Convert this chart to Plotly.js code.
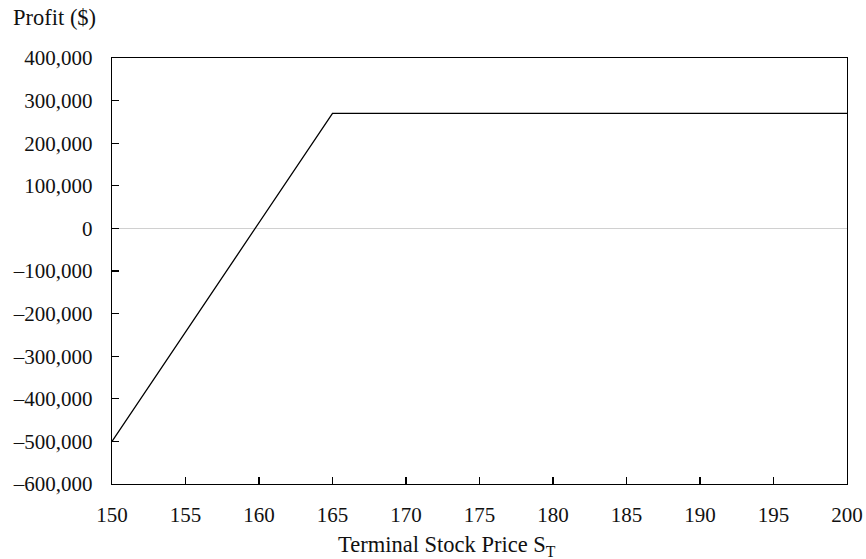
<!DOCTYPE html>
<html>
<head>
<meta charset="utf-8">
<script src="https://cdn.plot.ly/plotly-3.0.1.min.js"></script>
<style>html,body{margin:0;padding:0;background:#fff;}#chart{width:866px;height:559px;}</style>
</head>
<body>
<div id="chart"></div>
<script>
const stockPrice = [150, 165, 200];
const profit = [-500000, 270000, 270000];
const xTicks = [150, 155, 160, 165, 170, 175, 180, 185, 190, 195, 200];
const yTicks = [400000, 300000, 200000, 100000, 0, -100000, -200000, -300000, -400000, -500000, -600000];
const yTickText = ["400,000", "300,000", "200,000", "100,000", "0", "\u2013100,000", "\u2013200,000", "\u2013300,000", "\u2013400,000", "\u2013500,000", "\u2013600,000"];

const font = {family: "Liberation Serif, Times New Roman, serif", size: 21, color: "#111"};
const titleFont = {family: "Liberation Serif, Times New Roman, serif", size: 22.5, color: "#111"};

Plotly.newPlot("chart", [{
  x: stockPrice, y: profit, type: "scatter", mode: "lines",
  line: {color: "#000", width: 1.3}, hoverinfo: "skip"
}], {
  width: 866, height: 559,
  margin: {l: 112, r: 19, t: 58, b: 75},
  paper_bgcolor: "#fff", plot_bgcolor: "#fff",
  font: font,
  showlegend: false,
  title: {text: "Profit ($)", x: 13/866, xanchor: "left", xref: "container", y: 1 - 9/559, yanchor: "top", yref: "container", font: titleFont},
  annotations: [{
    text: "Terminal Stock Price S<sub>T</sub>", font: titleFont, showarrow: false,
    xref: "paper", yref: "paper", x: (447 - 112) / 735, y: -(546 - 484) / 426,
    xanchor: "center", yanchor: "middle"
  }],
  xaxis: {
    range: [150, 200], tickvals: xTicks, ticktext: xTicks.map(String),
    ticks: "inside", ticklen: 7, tickwidth: 1.2, tickcolor: "#000",
    showline: true, linecolor: "#000", linewidth: 1.3, mirror: true,
    showgrid: false, zeroline: false, tickfont: font, ticklabelstandoff: 11
  },
  yaxis: {
    range: [-600000, 400000], tickvals: yTicks, ticktext: yTickText,
    ticks: "inside", ticklen: 7, tickwidth: 1.2, tickcolor: "#000",
    showline: true, linecolor: "#000", linewidth: 1.3, mirror: true,
    showgrid: false, zeroline: true, zerolinecolor: "#d0d0d0", zerolinewidth: 1.3,
    tickfont: font, ticklabelstandoff: 14
  }
}, {displayModeBar: false, staticPlot: true});
</script>
</body>
</html>
